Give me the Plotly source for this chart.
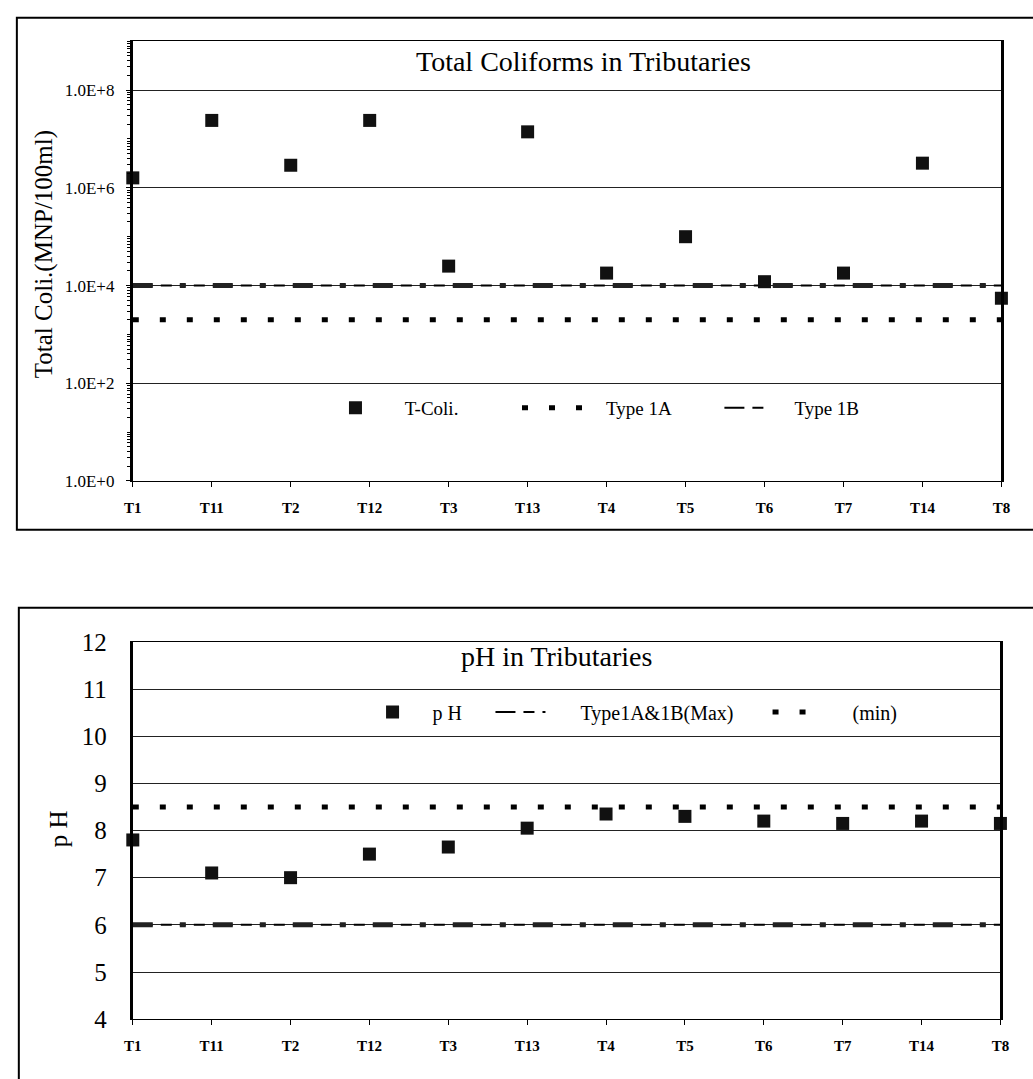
import plotly.graph_objects as go

# ---------------- data ----------------
sites = ["T1", "T11", "T2", "T12", "T3", "T13", "T4", "T5", "T6", "T7", "T14", "T8"]

t_coli = [1.6e6, 2.4e7, 2.9e6, 2.4e7, 2.5e4, 1.4e7, 1.8e4, 1.0e5, 1.2e4, 1.8e4, 3.2e6, 5.5e3]
type_1a = [2000, 2000, 2000, 2000, 2000, 2000, 2000, 2000, 2000, 2000, 2000, 2000]
type_1b = [10000, 10000, 10000, 10000, 10000, 10000, 10000, 10000, 10000, 10000, 10000, 10000]

coli_tickvals = [1, 100, 1e4, 1e6, 1e8]
coli_ticktext = ["1.0E+0", "1.0E+2", "1.0E+4", "1.0E+6", "1.0E+8"]

ph = [7.8, 7.1, 7.0, 7.5, 7.65, 8.05, 8.35, 8.3, 8.2, 8.15, 8.2, 8.15]
ph_max = [6.0, 6.0, 6.0, 6.0, 6.0, 6.0, 6.0, 6.0, 6.0, 6.0, 6.0, 6.0]
ph_min = [8.5, 8.5, 8.5, 8.5, 8.5, 8.5, 8.5, 8.5, 8.5, 8.5, 8.5, 8.5]

# ---------------- layout helpers ----------------
W, H = 1033, 1079
FONT = "Liberation Serif"
NB = "\u00a0"


def px_x(p):
    return p / W


def px_y(p):
    return 1 - p / H


DOT = "6px,21px"
DASHDOT_THIN = "20px,8px,11px,8px,6px,8px,11px,8px"
DASHDOT_THICK = "20px,27px,6px,27px"

fig = go.Figure()


def legend_box(x_left, y_mid, iw, size):
    return dict(orientation="h", x=px_x(x_left), y=px_y(y_mid), xanchor="left",
                yanchor="middle", bgcolor="rgba(0,0,0,0)", borderwidth=0,
                font=dict(family=FONT, size=size, color="black"),
                itemwidth=iw, itemclick=False, itemdoubleclick=False)


# ---- top chart ----
fig.add_trace(go.Scatter(x=sites, y=type_1a, mode="lines", name=NB * 4 + "Type 1A",
                         line=dict(color="black", width=5, dash=DOT),
                         xaxis="x", yaxis="y", legend="legend2", cliponaxis=False))
fig.add_trace(go.Scatter(x=sites, y=type_1b, mode="lines", name=NB * 4 + "Type 1B",
                         line=dict(color="black", width=2, dash=DASHDOT_THIN),
                         xaxis="x", yaxis="y", legend="legend3", cliponaxis=False))
fig.add_trace(go.Scatter(x=sites, y=type_1b, mode="lines", showlegend=False,
                         line=dict(color="#222", width=5, dash=DASHDOT_THICK),
                         xaxis="x", yaxis="y", cliponaxis=False, hoverinfo="skip"))
fig.add_trace(go.Scatter(x=sites, y=t_coli, mode="markers", name=NB * 3 + "T-Coli.",
                         marker=dict(symbol="square", size=13, color="#111"),
                         xaxis="x", yaxis="y", legend="legend", cliponaxis=False))

# ---- bottom chart ----
fig.add_trace(go.Scatter(x=sites, y=ph_min, mode="lines", name=NB * 5 + "(min)",
                         line=dict(color="black", width=5, dash=DOT),
                         xaxis="x2", yaxis="y2", legend="legend6", cliponaxis=False))
fig.add_trace(go.Scatter(x=sites, y=ph_max, mode="lines", name=NB * 6 + "Type1A&1B(Max)",
                         line=dict(color="black", width=2, dash=DASHDOT_THIN),
                         xaxis="x2", yaxis="y2", legend="legend5", cliponaxis=False))
fig.add_trace(go.Scatter(x=sites, y=ph_max, mode="lines", showlegend=False,
                         line=dict(color="#222", width=5, dash=DASHDOT_THICK),
                         xaxis="x2", yaxis="y2", cliponaxis=False, hoverinfo="skip"))
fig.add_trace(go.Scatter(x=sites, y=ph, mode="markers", name=NB * 4 + "p H",
                         marker=dict(symbol="square", size=13, color="#111"),
                         xaxis="x2", yaxis="y2", legend="legend4", cliponaxis=False))

xcommon = dict(type="category", categoryorder="array", categoryarray=sites,
               range=[0, len(sites) - 1], showline=True, linecolor="black",
               linewidth=1, mirror=True, showgrid=False, ticks="outside",
               ticklen=5, tickcolor="black", ticklabelstandoff=8,
               tickfont=dict(family=FONT, size=15, color="black", weight="bold"),
               zeroline=False)

fig.update_layout(
    width=W, height=H,
    margin=dict(l=0, r=0, t=0, b=0),
    paper_bgcolor="white", plot_bgcolor="white",
    font=dict(family=FONT, color="black"),
    xaxis=dict(xcommon, domain=[px_x(126), px_x(1010)], anchor="y"),
    yaxis=dict(type="log", range=[0, 9], domain=[px_y(480), px_y(29)], anchor="x",
               tickmode="array", tickvals=coli_tickvals, ticktext=coli_ticktext,
               tickfont=dict(family=FONT, size=17, color="black"),
               showline=True, linecolor="black", linewidth=3, mirror=True,
               showgrid=True, gridcolor="#222", gridwidth=1, ticks="outside",
               ticklen=4, tickcolor="black", ticklabelstandoff=8,
               minor=dict(ticks="outside", ticklen=3, tickcolor="black", dtick="D1",
                          showgrid=False),
               zeroline=False),
    xaxis2=dict(xcommon, domain=[px_x(126), px_x(1009)], anchor="y2"),
    yaxis2=dict(range=[4, 12], dtick=1, domain=[px_y(1032), px_y(645)], anchor="x2",
                tickfont=dict(family=FONT, size=25, color="black"),
                showline=True, linecolor="black", linewidth=3, mirror=True,
                showgrid=True, gridcolor="#222", gridwidth=1, ticks="",
                ticklabelstandoff=18, zeroline=False),
    legend=legend_box(317, 405, 60, 19),
    legend2=legend_box(517, 405, 60, 19),
    legend3=legend_box(723, 405, 46, 19),
    legend4=legend_box(370, 717, 30, 20),
    legend5=legend_box(490, 717, 50, 20),
    legend6=legend_box(772, 717, 50, 20),
    showlegend=True,
)

# titles and axis titles
ann = dict(xref="paper", yref="paper", showarrow=False, xanchor="center", yanchor="middle")
fig.add_annotation(ann, text="Total Coliforms in Tributaries", x=px_x(585), y=px_y(50),
                   font=dict(family=FONT, size=28, color="black"))
fig.add_annotation(ann, text="pH in Tributaries", x=px_x(557), y=px_y(660),
                   font=dict(family=FONT, size=28, color="black"))
fig.add_annotation(ann, text="Total Coli.(MNP/100ml)", x=px_x(35), y=px_y(247),
                   textangle=-90, font=dict(family=FONT, size=25, color="black"))
fig.add_annotation(ann, text="p H", x=px_x(50), y=px_y(837),
                   textangle=-90, font=dict(family=FONT, size=25, color="black"))

# outer frames around each chart
fig.add_shape(type="rect", xref="paper", yref="paper",
              x0=px_x(8), x1=px_x(1050), y0=px_y(530), y1=px_y(5),
              line=dict(color="black", width=2))
fig.add_shape(type="rect", xref="paper", yref="paper",
              x0=px_x(10), x1=px_x(1050), y0=px_y(1095), y1=px_y(610),
              line=dict(color="black", width=2))

fig.write_html("out.html")
